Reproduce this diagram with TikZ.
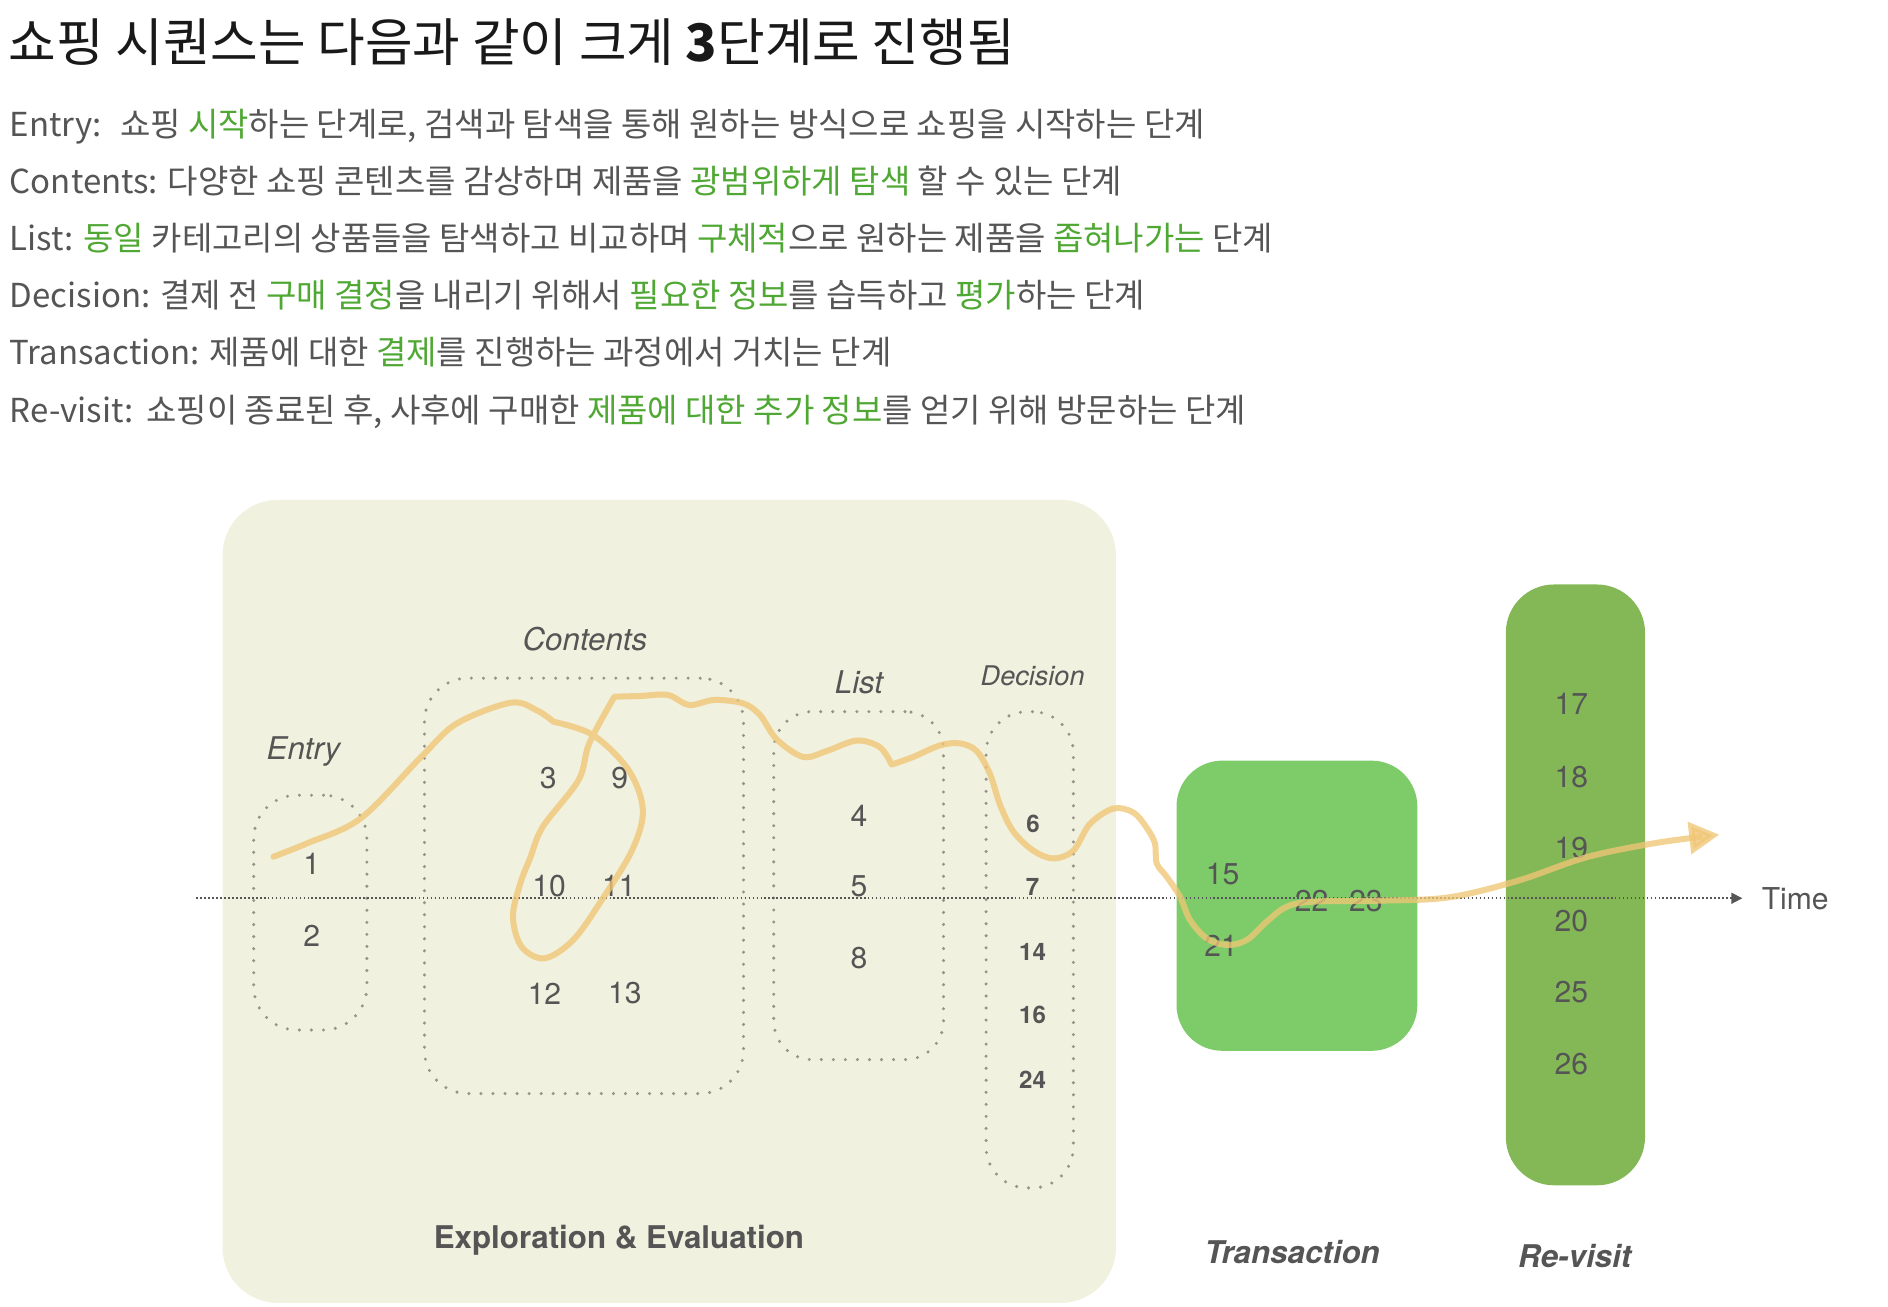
\documentclass[tikz,border=0pt]{standalone}
\usepackage{fontspec}
\setmainfont{TeX Gyre Heros}
\newfontfamily\krfont{Noto Sans CJK KR}
\usetikzlibrary{arrows.meta}

\definecolor{inkgray}{RGB}{85,85,85}
\definecolor{keygreen}{RGB}{80,168,52}
\definecolor{stagebg}{RGB}{240,241,222}
\definecolor{payfill}{RGB}{126,203,106}
\definecolor{revisitfill}{RGB}{132,184,87}
\definecolor{dotgray}{RGB}{150,148,138}
\definecolor{pathtan}{RGB}{240,198,118}
\newcommand{\kw}[1]{\textcolor{keygreen}{#1}}

\begin{document}
\begin{tikzpicture}[
  x=1pt, y=-1pt,
  desc/.style={font=\krfont\fontsize{27.4}{32}\selectfont, text=inkgray, anchor=base west, inner sep=0pt},
  panel/.style={inner sep=0pt},
  dotbox/.style={draw=dotgray, line width=2.8pt, dash pattern=on 0pt off 10pt, line cap=round, inner sep=0pt},
  num/.style={font=\fontsize{25}{30}\selectfont, text=inkgray, inner sep=0pt},
  dnum/.style={font=\bfseries\fontsize{20}{24}\selectfont, text=inkgray, inner sep=0pt},
  tag/.style={font=\itshape\fontsize{26}{30}\selectfont, text=inkgray, anchor=base, inner sep=0pt},
  stage/.style={font=\bfseries\fontsize{26}{30}\selectfont, text=inkgray, anchor=base, inner sep=0pt},
  axis/.style={draw=inkgray, line width=1.4pt, dash pattern=on 1.4pt off 1.9pt, -{Triangle[length=9pt,width=9pt]}},
  journey/.style={draw=pathtan, draw opacity=0.78, fill opacity=0.78, line width=5pt, line cap=round, line join=round, -{Triangle[length=25pt,width=26pt]}}
]
\useasboundingbox (0,0) rectangle (1568,1085);

% heading and the six stage descriptions
\node[anchor=base west, inner sep=0pt, text=black!90, font=\krfont\fontsize{43}{50}\selectfont] (title) at (7,51) {쇼핑 시퀀스는 다음과 같이 크게 {\bfseries 3}단계로 진행됨};
\node[desc] (entryline) at (8,113.7) {Entry:\hspace{15pt}쇼핑 \kw{시작}하는 단계로, 검색과 탐색을 통해 원하는 방식으로 쇼핑을 시작하는 단계};
\node[desc] (contentsline) at (8,160.7) {Contents: 다양한 쇼핑 콘텐츠를 감상하며 제품을 \kw{광범위하게 탐색} 할 수 있는 단계};
\node[desc] (listline) at (8,207.7) {List: \kw{동일} 카테고리의 상품들을 탐색하고 비교하며 \kw{구체적}으로 원하는 제품을 \kw{좁혀나가는} 단계};
\node[desc] (decisionline) at (8,255.7) {Decision: 결제 전 \kw{구매 결정}을 내리기 위해서 \kw{필요한 정보}를 습득하고 \kw{평가}하는 단계};
\node[desc] (transactionline) at (8,302.7) {Transaction: 제품에 대한 \kw{결제}를 진행하는 과정에서 거치는 단계};
\node[desc] (revisitline) at (8,350.7) {Re-visit:\hspace{11pt}쇼핑이 종료된 후, 사후에 구매한 \kw{제품에 대한 추가 정보}를 얻기 위해 방문하는 단계};

% stage panels
\node[panel, fill=stagebg, rounded corners=46pt, minimum width=742pt, minimum height=667pt] (explore) at (555.8,748.6) {};
\node[panel, fill=payfill, rounded corners=38pt, minimum width=200pt, minimum height=241pt] (pay) at (1077.1,752.2) {};
\node[panel, fill=revisitfill, rounded corners=40pt, minimum width=115.6pt, minimum height=499pt] (revisit) at (1308.4,734.9) {};

% dotted sub-stage groups
\node[dotbox, rounded corners=36pt, minimum width=94pt, minimum height=195pt] (entrybox) at (257.7,757.9) {};
\node[dotbox, rounded corners=36pt, minimum width=265pt, minimum height=345pt] (contentsbox) at (485,735.7) {};
\node[dotbox, rounded corners=32pt, minimum width=141pt, minimum height=289pt] (listbox) at (713.1,735.5) {};
\node[dotbox, rounded corners=34pt, minimum width=72.5pt, minimum height=395.5pt] (decisionbox) at (855.2,788.8) {};

% labels
\node[tag] (entrytag) at (252,631) {Entry};
\node[tag] (contentstag) at (485.8,540.4) {Contents};
\node[tag] (listtag) at (713.4,576) {List};
\node[tag, font=\itshape\fontsize{22.5}{27}\selectfont] (decisiontag) at (857.6,569.7) {Decision};
\node[stage] (exploretag) at (514,1036.7) {Exploration \& Evaluation};
\node[stage, font=\bfseries\itshape\fontsize{26}{30}\selectfont] (paytag) at (1073.2,1049) {Transaction};
\node[stage, font=\bfseries\itshape\fontsize{26}{30}\selectfont] (revisittag) at (1307.8,1053) {Re-visit};

% step numbers
\node[num] (n1) at (259,717) {1};
\node[num] (n2) at (259,777.4) {2};
\node[num] (n3) at (455.3,645.9) {3};
\node[num] (n9) at (514.6,645.9) {9};
\node[num] (n10) at (456,735.5) {10};
\node[num] (n11) at (514,735.5) {11};
\node[num] (n12) at (452.2,825) {12};
\node[num] (n13) at (518.9,825) {13};
\node[num] (n4) at (713.4,677.9) {4};
\node[num] (n5) at (713.4,736.4) {5};
\node[num] (n8) at (713.4,795.9) {8};
\node[dnum] (n6) at (858,684) {6};
\node[dnum] (n7) at (857.5,736.4) {7};
\node[dnum] (n14) at (857.5,790.4) {14};
\node[dnum] (n16) at (857.5,843) {16};
\node[dnum] (n24) at (857.5,896.4) {24};
\node[num] (n15) at (1015.3,725.7) {15};
\node[num] (n21) at (1014.2,785.6) {21};
\node[num] (n22) at (1089.3,748) {22};
\node[num] (n23) at (1134.3,748) {23};
\node[num] (n17) at (1305,584.6) {17};
\node[num] (n18) at (1305,645.4) {18};
\node[num] (n19) at (1305,704.2) {19};
\node[num] (n20) at (1305,764.9) {20};
\node[num] (n25) at (1305,823.7) {25};
\node[num] (n26) at (1305,883.7) {26};

% time axis
\node[num, anchor=base west] (time) at (1463,755) {Time};
\coordinate (t0) at (163,746);
\coordinate (t1) at (1447,746);
\draw[axis] (t0) -- (t1);

% the shopper's journey
\draw[journey]
  plot[smooth, tension=0.55] coordinates {(227,711.5) (255,700.4) (299.6,679.6) (350,628.4) (379.6,600.7) (424.2,583.6) (446,590) (459.7,599.4)}
  -- plot[smooth, tension=0.55] coordinates {(459.7,599.4) (492.4,610.4) (522,639.5) (533.9,672.7) (525,706) (499.8,747.4) (476,780.7) (452.1,795.9) (433.1,786.2) (426,761.3) (432,734) (440.5,712) (450.9,686.5) (480.5,647.8) (489.4,617.3) (510.2,578.6)}
  -- plot[smooth, tension=0.55] coordinates {(510.2,578.6) (532,578) (554.7,577.2) (572.4,585.5) (593.2,581.3) (617,584.1) (631,593.6) (645,614) (667,628.6) (686.6,623.7) (711.5,615) (730.8,620.6) (740.5,635)}
  -- plot[smooth, tension=0.55] coordinates {(740.5,635) (758.5,628.6) (780.7,619) (797.3,617.4) (811.1,623.7) (822.2,642.8) (830.5,668.3) (841.6,690.6) (858.2,706.5) (874.8,712.9) (891.4,706.5) (905.2,684.2) (924.6,671.5) (941.2,674.7) (952,687) (959.2,700.4) (960.6,717) (968.9,728.1) (980,744.7) (988.3,764) (1002.1,779.3) (1018.8,784.8) (1035.4,780.7) (1052,765.4) (1068.6,753) (1090.7,748.8) (1145.7,748) (1202.9,745.3) (1260.1,731.6) (1317.3,712) (1374.5,700.2) (1427.9,693.2)};

\end{tikzpicture}
\end{document}
